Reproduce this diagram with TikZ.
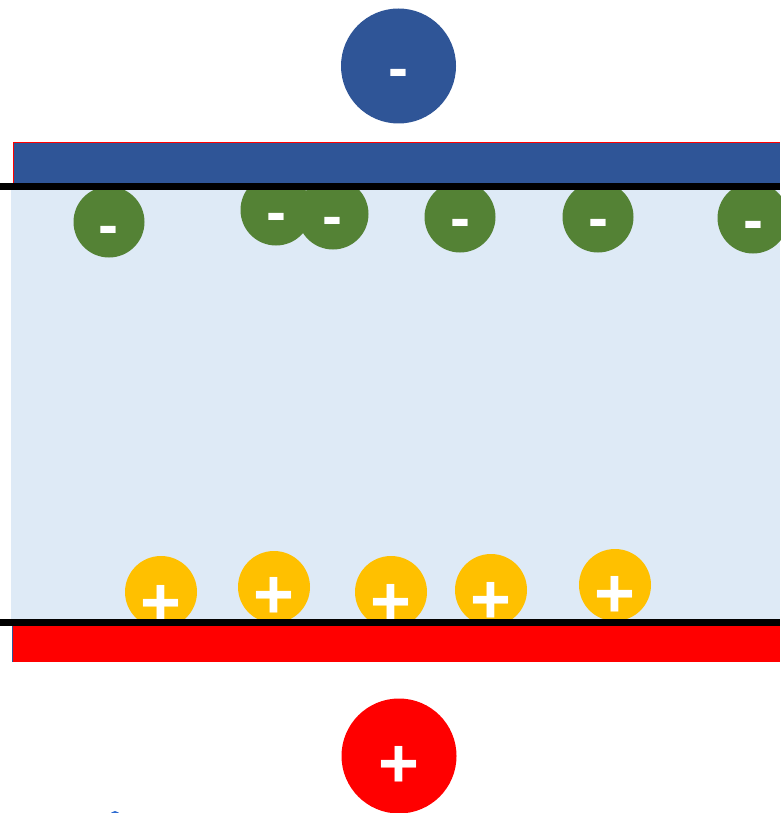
\documentclass[tikz,border=0pt]{standalone}
\usepackage{fontspec}
\setmainfont{Liberation Sans}
\definecolor{plateblue}{HTML}{2F5597}
\definecolor{ionblue}{HTML}{2F5597}
\definecolor{aniongreen}{HTML}{548235}
\definecolor{cationyellow}{HTML}{FFC000}
\definecolor{electrolyte}{HTML}{DEEAF6}
\definecolor{platered}{HTML}{FF0000}
\definecolor{dotblue}{HTML}{2E6BD0}
\tikzset{
  anion/.style={circle, fill=aniongreen, minimum size=71pt, inner sep=0pt},
  cation/.style={circle, fill=cationyellow, minimum size=72pt, inner sep=0pt},
  terminal/.style={circle, minimum size=115pt, inner sep=0pt},
  minussign/.style={anchor=base, text=white, font=\bfseries\fontsize{60}{60}\selectfont, inner sep=0pt},
  plussign/.style={anchor=base, text=white, font=\bfseries\fontsize{70}{70}\selectfont, inner sep=0pt},
  separator/.style={line width=7pt, black}
}
\begin{document}
\begin{tikzpicture}[x=1pt,y=-1pt]
\useasboundingbox (0,0) rectangle (780,813);

% electrolyte between the plates
\fill[electrolyte] (11,188) rectangle (780,620);

% adsorbed anions near the negative plate
\node[anion] (a1) at (109,222) {};
\node[anion] (a2) at (276,210) {};
\node[anion] (a3) at (333,214) {};
\node[anion] (a4) at (460,217) {};
\node[anion] (a5) at (598,217) {};
\node[anion] (a6) at (753,218) {};

% adsorbed cations near the positive plate
\node[cation] (c1) at (161,592) {};
\node[cation] (c2) at (274,587) {};
\node[cation] (c3) at (391,592) {};
\node[cation] (c4) at (491,590) {};
\node[cation] (c5) at (615,585) {};

% signs on the ions
\foreach \n/\x/\y in {a1/108/245, a2/276/232, a3/332/236, a4/460/238, a5/598/238, a6/753/240}
  \node[minussign] (s\n) at (\x,\y) {-};
\foreach \n/\x/\y in {c1/161/626, c2/274/618, c3/391/625, c4/491/623, c5/615/617}
  \node[plussign] (s\n) at (\x,\y) {+};

% plates
\fill[plateblue] (13,143) rectangle (780,183);
\draw[platered, line width=1pt] (13,183) -- (13,143) -- (780,143);
\fill[platered] (12,626) rectangle (780,662);
\draw[plateblue, line width=1.2pt] (12.5,626) -- (12.5,662);

% separators
\draw[separator] (0,186.5) -- (780,186.5);
\draw[separator] (0,622.5) -- (780,622.5);

% terminals
\node[terminal, fill=ionblue] (neg) at (398.5,66) {};
\node[minussign, font=\bfseries\fontsize{60}{60}\selectfont] (negsign) at (398,89) {-};
\node[terminal, fill=platered] (pos) at (399,756) {};
\node[plussign] (possign) at (399,787) {+};

% small mark at the lower edge
\fill[dotblue] (115,816) circle (5pt);
\end{tikzpicture}
\end{document}
